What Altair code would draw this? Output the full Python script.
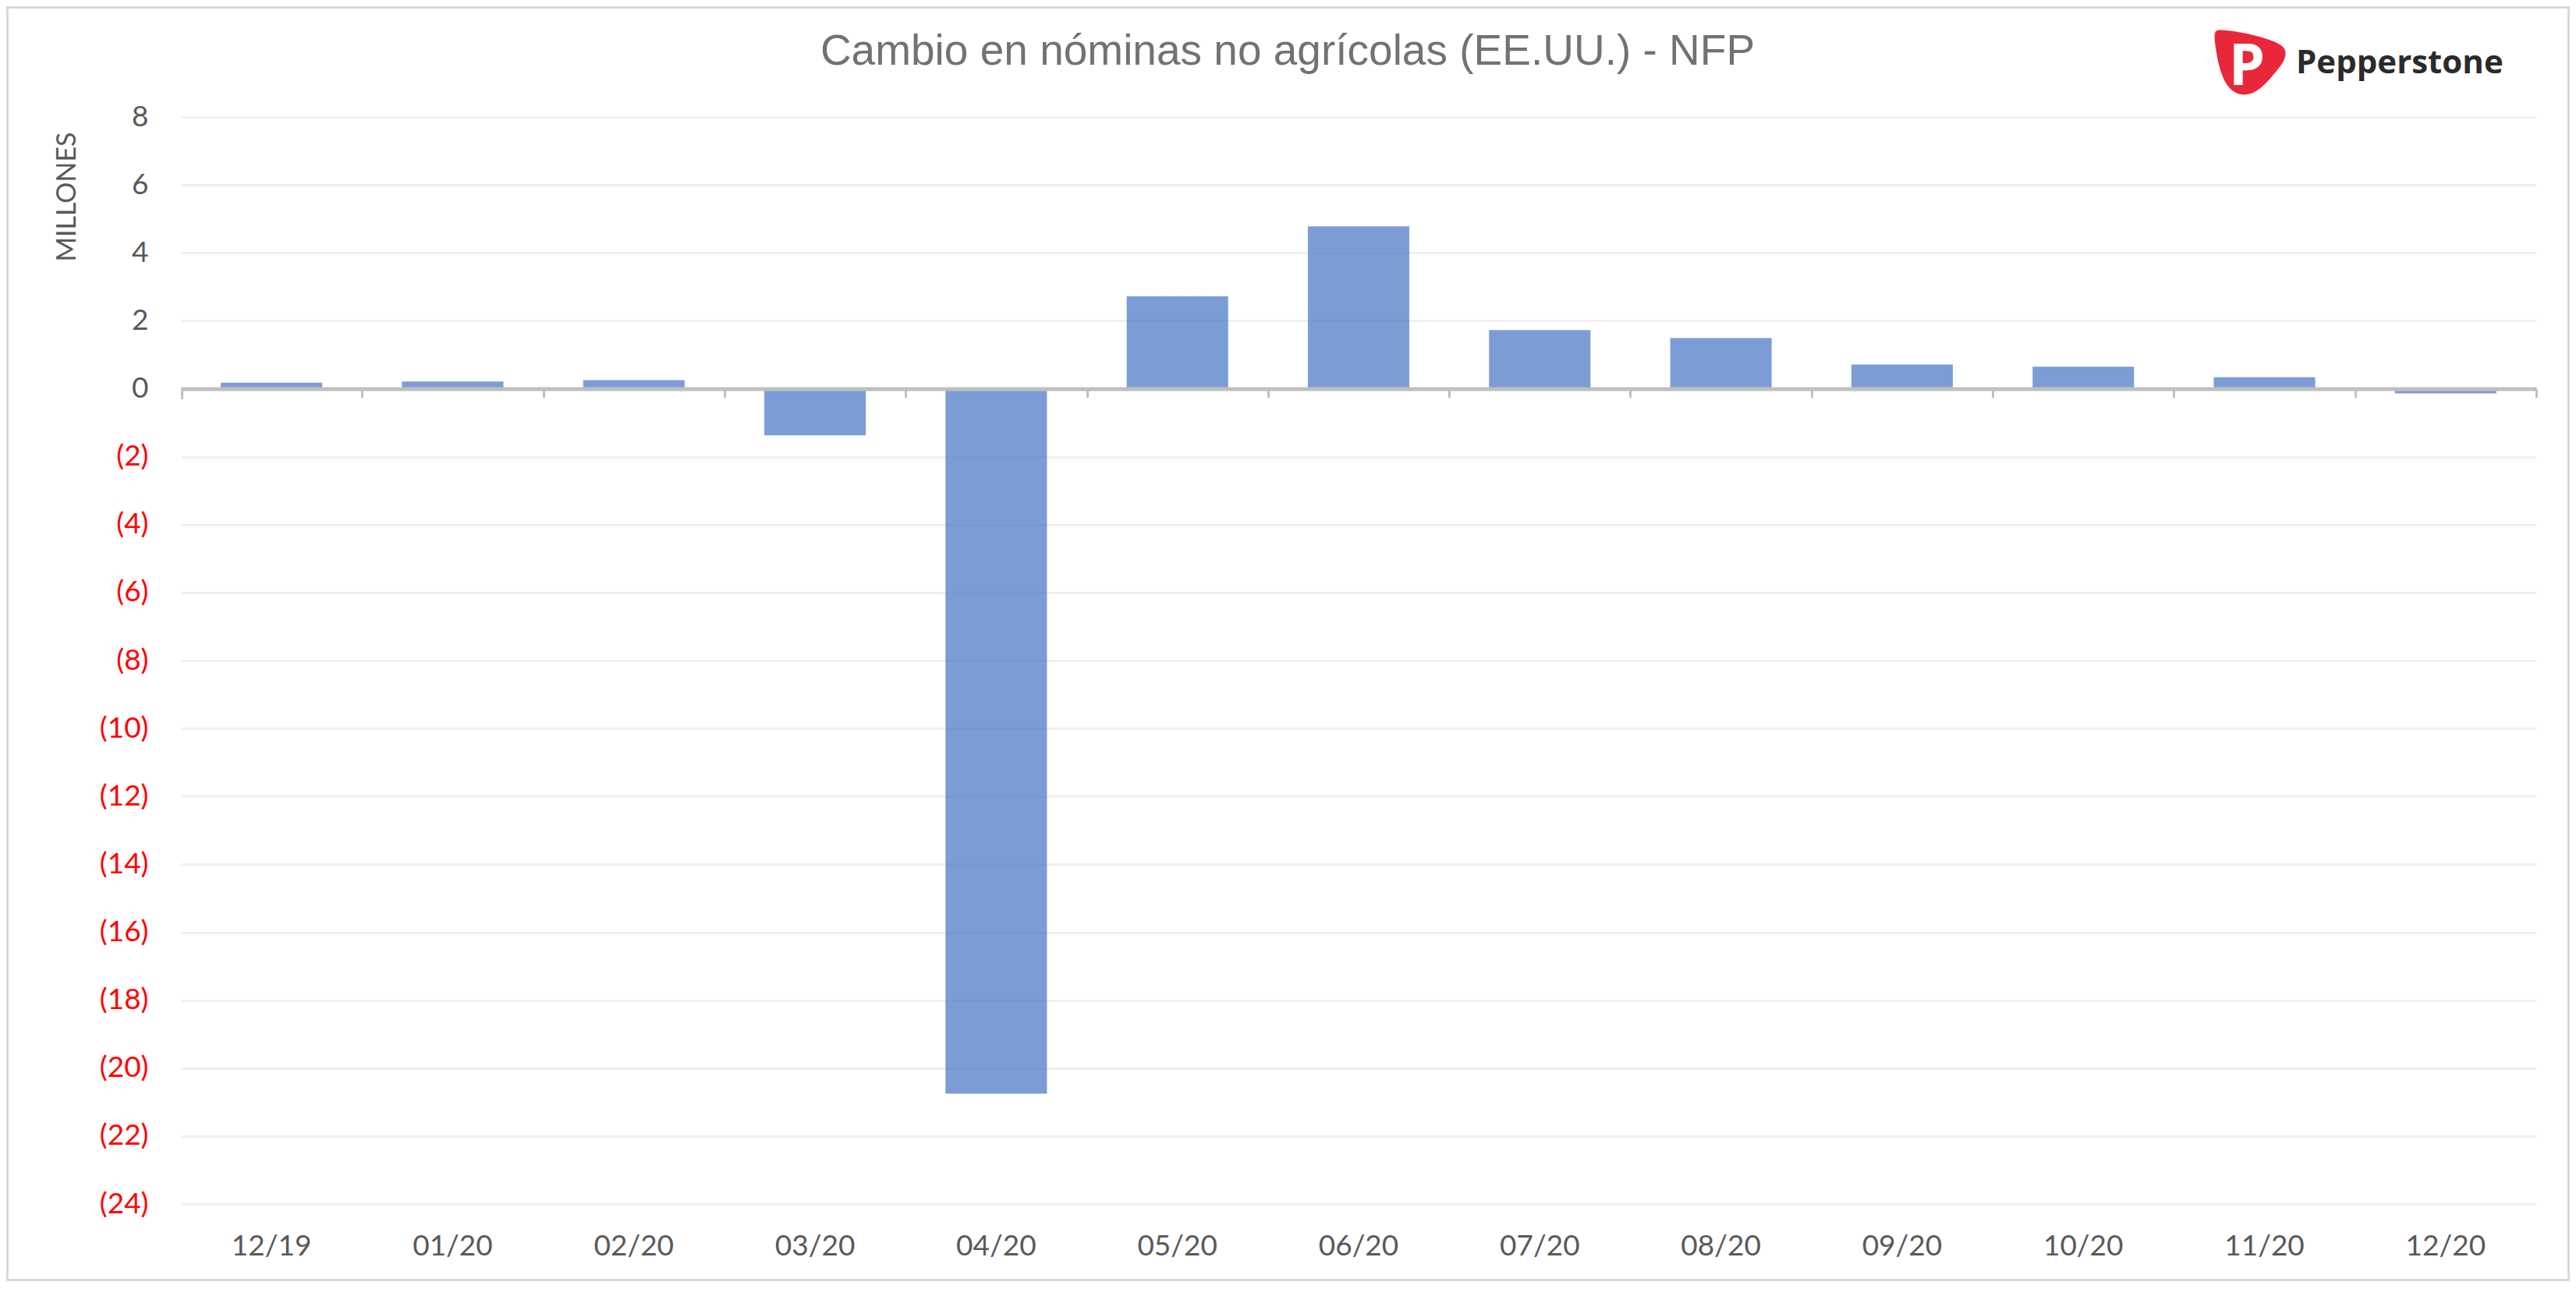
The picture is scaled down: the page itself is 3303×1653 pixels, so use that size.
import altair as alt
import pandas as pd

months = ["12/19", "01/20", "02/20", "03/20", "04/20", "05/20", "06/20",
          "07/20", "08/20", "09/20", "10/20", "11/20", "12/20"]
values = [0.18, 0.21, 0.25, -1.37, -20.75, 2.72, 4.78, 1.73, 1.49, 0.71, 0.65, 0.34, -0.14]
y_ticks = list(range(-24, 10, 2))
title_text = "Cambio en nóminas no agrícolas (EE.UU.) - NFP"
y_title = "MILLONES"
brand = "Pepperstone"

df = pd.DataFrame({"month": months, "value": values})

W, H = 3020, 1394
Y_MIN, Y_MAX = -24, 8
zero_pos = H * (Y_MAX - 0) / (Y_MAX - Y_MIN)
step = W / len(months)

xscale = alt.Scale(paddingInner=0.44, paddingOuter=0.22)

bars = alt.Chart(df).mark_bar(color="#4472C4", opacity=0.7).encode(
    x=alt.X("month:N", sort=months, scale=xscale,
            axis=alt.Axis(orient="bottom", title=None, domain=False, ticks=False,
                          labelAngle=0, labelFont="Lato", labelFontSize=37,
                          labelColor="#595959", labelPadding=36, grid=False)),
    y=alt.Y("value:Q", scale=alt.Scale(domain=[Y_MIN, Y_MAX], nice=False, zero=False),
            axis=alt.Axis(values=y_ticks, title=y_title, domain=False, ticks=False,
                          grid=True, gridColor="#F0F0F0", gridWidth=3, zindex=0,
                          labelFont="Lato", labelFontSize=37, labelPadding=42,
                          labelExpr="datum.value < 0 ? '(' + format(-datum.value, 'd') + ')' : format(datum.value, 'd') + '\u00a0'",
                          labelColor=alt.ExprRef(expr="datum.value < 0 ? '#FF0000' : '#595959'"),
                          titleFont="Lato", titleFontSize=34, titleColor="#595959",
                          titleFontWeight="normal", titleAngle=270,
                          titleX=-146, titleY=102, titleAlign="center",
                          titleBaseline="middle")),
)

tick_layer = alt.Chart(df).mark_rule(strokeOpacity=0).encode(
    x=alt.X("month:N", sort=months, scale=xscale,
            axis=alt.Axis(orient="bottom", offset=-(H - zero_pos), title=None, labels=False,
                          domain=True, domainColor="#BFBFBF", domainWidth=5,
                          ticks=True, tickColor="#BFBFBF", tickWidth=3, tickSize=11,
                          tickBand="center", tickOffset=step / 2, grid=False, zindex=1)),
)

one = pd.DataFrame({"t": [title_text]})

first_tick = alt.Chart(one).mark_rule(color="#BFBFBF", strokeWidth=3).encode(
    x=alt.value(1.5), y=alt.value(zero_pos), y2=alt.value(zero_pos + 13.5))

title_mark = alt.Chart(one).mark_text(
    font="Liberation Sans", fontSize=55, color="#767171", align="center",
    baseline="alphabetic").encode(
    x=alt.value(1419), y=alt.value(-67), text="t:N")

border = alt.Chart(one).mark_rect(
    fill=None, stroke="#D9D9D9", strokeWidth=3).encode(
    x=alt.value(-222.5), x2=alt.value(3061.5), y=alt.value(-140.5), y2=alt.value(1491.5))

pick_path = ("M -0.85 -0.9 C -0.4 -0.9 0.6 -0.68 0.9 -0.45 C 1.05 -0.32 1.0 -0.1 0.85 0.1 "
             "C 0.5 0.55 0.2 0.9 -0.15 0.9 C -0.6 0.9 -0.8 0.45 -0.92 -0.18 "
             "C -0.98 -0.55 -1 -0.68 -0.98 -0.8 C -0.96 -0.88 -0.92 -0.9 -0.85 -0.9 Z")

logo_shape = alt.Chart(one).mark_point(
    shape=pick_path, filled=True, fill="#E8283A", opacity=1, size=8464, strokeWidth=0).encode(
    x=alt.value(2653), y=alt.value(-70))

logo_p = alt.Chart(pd.DataFrame({"t": ["P"]})).mark_text(
    font="Open Sans", fontSize=74, fontWeight="bold", color="white", align="center",
    baseline="alphabetic").encode(x=alt.value(2649), y=alt.value(-41), text="t:N")

logo_text = alt.Chart(pd.DataFrame({"t": [brand]})).mark_text(
    font="Open Sans", fontSize=42, fontWeight="bold", color="#2B2B2B", align="left",
    baseline="alphabetic").encode(x=alt.value(2712), y=alt.value(-56), text="t:N")

chart = alt.layer(bars, tick_layer, first_tick, title_mark, border, logo_shape, logo_p,
                  logo_text).resolve_axis(
    x="independent"
).properties(
    width=W, height=H,
    autosize=alt.AutoSizeParams(type="none"),
    padding={"left": 224, "top": 142, "right": 43, "bottom": 99},
    background="white",
).configure_view(stroke=None)

chart.save("out.html", embed_options={"renderer": "svg", "actions": False})
